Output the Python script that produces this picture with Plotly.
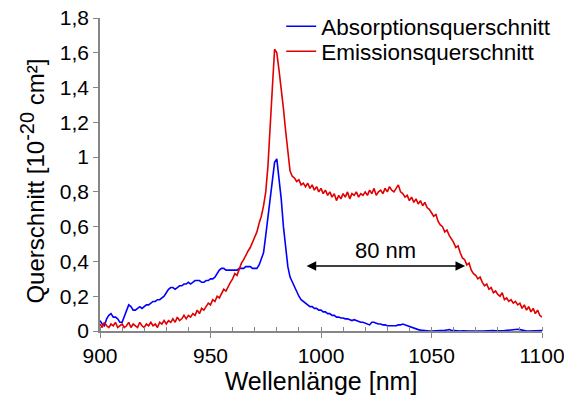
import plotly.graph_objects as go

wavelength = list(range(900, 1101))

absorption = [
    0.06, 0.04, 0.03, 0.07, 0.09, 0.10, 0.08, 0.08, 0.07, 0.05,
    0.05, 0.08, 0.12, 0.15, 0.14, 0.12, 0.12, 0.13, 0.14, 0.13,
    0.14, 0.15, 0.15, 0.16, 0.17, 0.17, 0.18, 0.18, 0.19, 0.20,
    0.22, 0.24, 0.25, 0.25, 0.24, 0.25, 0.26, 0.26, 0.27, 0.27,
    0.28, 0.27, 0.28, 0.29, 0.29, 0.29, 0.28, 0.28, 0.29, 0.29,
    0.30, 0.30, 0.31, 0.33, 0.35, 0.36, 0.36, 0.35, 0.35, 0.35,
    0.35, 0.35, 0.35, 0.36, 0.36, 0.36, 0.37, 0.37, 0.37, 0.36,
    0.36, 0.36, 0.38, 0.41, 0.45, 0.55, 0.65, 0.74, 0.86, 0.97,
    0.99, 0.88, 0.76, 0.60, 0.47, 0.37, 0.31, 0.28, 0.25, 0.22,
    0.20, 0.18, 0.17, 0.16, 0.15, 0.14, 0.14, 0.13, 0.13, 0.12,
    0.12, 0.11, 0.11, 0.10, 0.10, 0.09, 0.09, 0.08, 0.08, 0.075,
    0.075, 0.07, 0.07, 0.065, 0.06, 0.065, 0.06, 0.055, 0.05, 0.05,
    0.045, 0.04, 0.035, 0.05, 0.05, 0.045, 0.04, 0.04, 0.035, 0.035,
    0.03, 0.03, 0.03, 0.03, 0.03, 0.035, 0.035, 0.04, 0.035, 0.03,
    0.025, 0.02, 0.015, 0.01, 0.008, 0.005, 0.003, 0.002, 0.001, 0.0,
    0.0, 0.0, 0.001, 0.002, 0.003, 0.002, 0.004, 0.006, 0.008, 0.004,
    0.002, 0.001, 0.0, 0.0, 0.001, 0.002, 0.001, 0.0, 0.0, 0.001,
    0.002, 0.001, 0.0, 0.0, 0.001, 0.0, 0.0, 0.001, 0.002, 0.001,
    0.0, 0.0, 0.001, 0.002, 0.004, 0.006, 0.008, 0.010, 0.012, 0.010,
    0.008, 0.004, 0.002, 0.0, 0.0, 0.001, 0.002, 0.003, 0.004, 0.003, 0.002,
]

emission = [
    0.04, 0.02, 0.05, 0.03, 0.02, 0.04, 0.03, 0.05, 0.02, 0.03,
    0.04, 0.02, 0.03, 0.05, 0.02, 0.04, 0.03, 0.02, 0.05, 0.03,
    0.02, 0.04, 0.03, 0.05, 0.03, 0.04, 0.02, 0.05, 0.04, 0.06,
    0.04, 0.06, 0.05, 0.07, 0.05, 0.08, 0.06, 0.07, 0.09, 0.07,
    0.09, 0.08, 0.10, 0.09, 0.12, 0.10, 0.13, 0.12, 0.14, 0.16,
    0.15, 0.18, 0.17, 0.20, 0.19, 0.22, 0.24, 0.23, 0.26, 0.28,
    0.30, 0.33, 0.32, 0.36, 0.39, 0.41, 0.44, 0.46, 0.48, 0.51,
    0.53, 0.57, 0.62, 0.66, 0.72, 0.80, 0.95, 1.15, 1.40, 1.62,
    1.60, 1.50, 1.40, 1.28, 1.15, 1.02, 0.92, 0.89, 0.88, 0.86,
    0.87, 0.84, 0.85, 0.83, 0.85, 0.82, 0.84, 0.81, 0.83, 0.80,
    0.82, 0.79, 0.81, 0.78, 0.80, 0.77, 0.79, 0.75, 0.78, 0.76,
    0.79, 0.77, 0.80, 0.76, 0.79, 0.78, 0.80, 0.77, 0.79, 0.78,
    0.80, 0.78, 0.81, 0.79, 0.82, 0.78, 0.80, 0.81, 0.79, 0.82,
    0.80, 0.83, 0.81, 0.80, 0.82, 0.84, 0.80, 0.79, 0.77, 0.78,
    0.75, 0.77, 0.74, 0.76, 0.73, 0.75, 0.72, 0.74, 0.71, 0.70,
    0.68, 0.66, 0.67, 0.63, 0.61, 0.60, 0.57, 0.58, 0.55, 0.53,
    0.51, 0.48, 0.49, 0.45, 0.42, 0.41, 0.38, 0.39, 0.35, 0.33,
    0.32, 0.30, 0.31, 0.28, 0.26, 0.27, 0.24, 0.25, 0.22, 0.23,
    0.21, 0.20, 0.22, 0.18, 0.19, 0.17, 0.18, 0.16, 0.17, 0.15,
    0.16, 0.13, 0.15, 0.12, 0.14, 0.11, 0.13, 0.10, 0.12, 0.09, 0.08,
]

y_tickvals = [0, 0.2, 0.4, 0.6, 0.8, 1.0, 1.2, 1.4, 1.6, 1.8]
y_ticktext = ["0", "0,2", "0,4", "0,6", "0,8", "1", "1,2", "1,4", "1,6", "1,8"]
x_tickvals = [900, 950, 1000, 1050, 1100]

arrow_start = 992.8
arrow_end = 1065.2
arrow_y = 0.374
arrow_label = "80 nm"

FONT = "Liberation Sans, Arial, sans-serif"
AXIS_GRAY = "#868686"

fig = go.Figure()
fig.add_trace(go.Scatter(x=wavelength, y=absorption, mode="lines",
                         name="Absorptionsquerschnitt", legend="legend",
                         line=dict(color="#0000ff", width=1.6)))
fig.add_trace(go.Scatter(x=wavelength, y=emission, mode="lines",
                         name="Emissionsquerschnitt", legend="legend2",
                         line=dict(color="#e00000", width=1.6)))

fig.add_annotation(x=arrow_end, y=arrow_y, ax=arrow_start, ay=arrow_y,
                   xref="x", yref="y", axref="x", ayref="y",
                   text="", showarrow=True, arrowhead=2, arrowside="end+start",
                   arrowsize=1.2, arrowwidth=1.6, arrowcolor="black")
fig.add_annotation(x=(arrow_start + arrow_end) / 2, y=arrow_y + 0.09,
                   xref="x", yref="y", text=arrow_label, showarrow=False,
                   font=dict(size=22, color="black", family=FONT))

# y-axis title placed as rotated text (reference is offset from plot centre)
fig.add_annotation(
    x=-0.152, y=0.48, xref="paper", yref="paper", textangle=-90,
    text='Querschnitt [10<sup><span style="font-size:20px">-20</span></sup> cm²]',
    showarrow=False, font=dict(size=24, color="black", family=FONT),
    xanchor="center", yanchor="middle")

legend_common = dict(xanchor="left", yanchor="top", bgcolor="rgba(0,0,0,0)",
                     font=dict(size=22.5, family=FONT), itemwidth=30)

fig.update_layout(
    width=564, height=395,
    margin=dict(l=100, r=22, t=18, b=64, autoexpand=False),
    paper_bgcolor="white", plot_bgcolor="white",
    font=dict(family=FONT, color="black"),
    showlegend=True,
    legend=dict(x=0.41, y=1.041, **legend_common),
    legend2=dict(x=0.41, y=1.041 - 25 / 313, **legend_common),
    xaxis=dict(range=[900, 1100], tickvals=x_tickvals, automargin=False,
               ticklabeloverflow="allow",
               showline=True, linecolor=AXIS_GRAY, linewidth=1.5,
               ticks="outside", ticklen=5, tickcolor=AXIS_GRAY, tickwidth=1.2,
               minor=dict(dtick=10, tick0=900, ticks="inside", ticklen=4,
                          tickcolor=AXIS_GRAY, tickwidth=1),
               showgrid=False, zeroline=False,
               tickfont=dict(size=21),
               title=dict(text="Wellenlänge [nm]", font=dict(size=25), standoff=7)),
    yaxis=dict(range=[0, 1.8], tickvals=y_tickvals, ticktext=y_ticktext,
               automargin=False,
               showline=True, linecolor=AXIS_GRAY, linewidth=1.5,
               ticks="outside", ticklen=5, tickcolor=AXIS_GRAY, tickwidth=1.2,
               showgrid=False, zeroline=False,
               tickfont=dict(size=21)),
)

fig.write_html("out.html")
